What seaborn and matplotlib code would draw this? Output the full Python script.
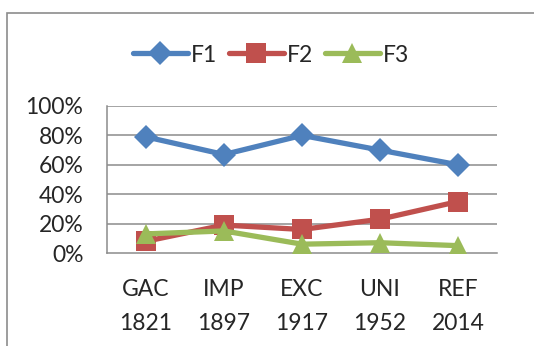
import matplotlib
matplotlib.use("Agg")
import matplotlib.pyplot as plt
from matplotlib.lines import Line2D
from matplotlib.patches import Rectangle
from matplotlib.ticker import FixedLocator, PercentFormatter
import seaborn as sns
import pandas as pd

periods = ["GAC\n1821", "IMP\n1897", "EXC\n1917", "UNI\n1952", "REF\n2014"]
f1 = [0.79, 0.67, 0.80, 0.70, 0.60]
f2 = [0.08, 0.19, 0.16, 0.23, 0.35]
f3 = [0.13, 0.15, 0.06, 0.07, 0.05]
series_names = ["F1", "F2", "F3"]
colors = ["#4F81BD", "#C0504D", "#9BBB59"]
markers = ["D", "s", "^"]
marker_sizes = [12, 14, 14]

rows = []
for name, vals in zip(series_names, [f1, f2, f3]):
    for i, v in enumerate(vals):
        rows.append({"pos": i, "value": v, "series": name})
df = pd.DataFrame(rows)

sns.set_theme(style="white")
plt.rcParams["font.family"] = ["Lato", "DejaVu Sans"]
FS = 16.5

fig = plt.figure(figsize=(5.34, 3.46), dpi=100)
ax = fig.add_axes([107 / 534, 1 - 253 / 346, 390 / 534, 147 / 346])

grid_c = "#8C8C8C"
for y in [0.2, 0.4, 0.6, 0.8, 1.0]:
    ax.axhline(y, color=grid_c, lw=1.1, zorder=0)

for name, col, mk, ms in zip(series_names, colors, markers, marker_sizes):
    sub = df[df["series"] == name]
    sns.lineplot(data=sub, x="pos", y="value", ax=ax, color=col, lw=3.8,
                 marker=mk, markersize=ms, markeredgewidth=0,
                 legend=False, zorder=3)

ax.set_xlim(-0.5, 4.5)
ax.set_ylim(0, 1.0)
ax.set_xlabel("")
ax.set_ylabel("")
ax.yaxis.set_major_locator(FixedLocator([0, 0.2, 0.4, 0.6, 0.8, 1.0]))
ax.yaxis.set_major_formatter(PercentFormatter(1.0, decimals=0))
ax.set_xticks(range(len(periods)))
ax.set_xticklabels(periods, fontsize=FS, linespacing=1.75)
ax.xaxis.set_minor_locator(FixedLocator([-0.5, 0.5, 1.5, 2.5, 3.5, 4.5]))
ax.tick_params(axis="x", which="major", length=0, pad=19)
ax.tick_params(axis="x", which="minor", length=6, width=1.1, color=grid_c, direction="out")
ax.tick_params(axis="y", which="major", length=7, width=1.1, color=grid_c,
               direction="out", labelsize=FS, pad=10)
for s in ["top", "right"]:
    ax.spines[s].set_visible(False)
for s in ["left", "bottom"]:
    ax.spines[s].set_color(grid_c)
    ax.spines[s].set_linewidth(1.1)

handles = [Line2D([], [], color=c, lw=3.8, marker=m, markersize=ms, markeredgewidth=0)
           for c, m, ms in zip(colors, markers, marker_sizes)]
fig.legend(handles, series_names, loc="center", bbox_to_anchor=(271 / 534, 1 - 55 / 346),
           ncol=3, frameon=False, fontsize=FS, handlelength=2.4, handletextpad=0.15,
           columnspacing=0.5)

fig.patches.append(Rectangle((7 / 534, -0.1), 1.2, 1 - 13 / 346 + 0.1,
                             transform=fig.transFigure, fill=False,
                             edgecolor="#8C8C8C", lw=1.2))

fig.savefig("out.png", dpi=100)
